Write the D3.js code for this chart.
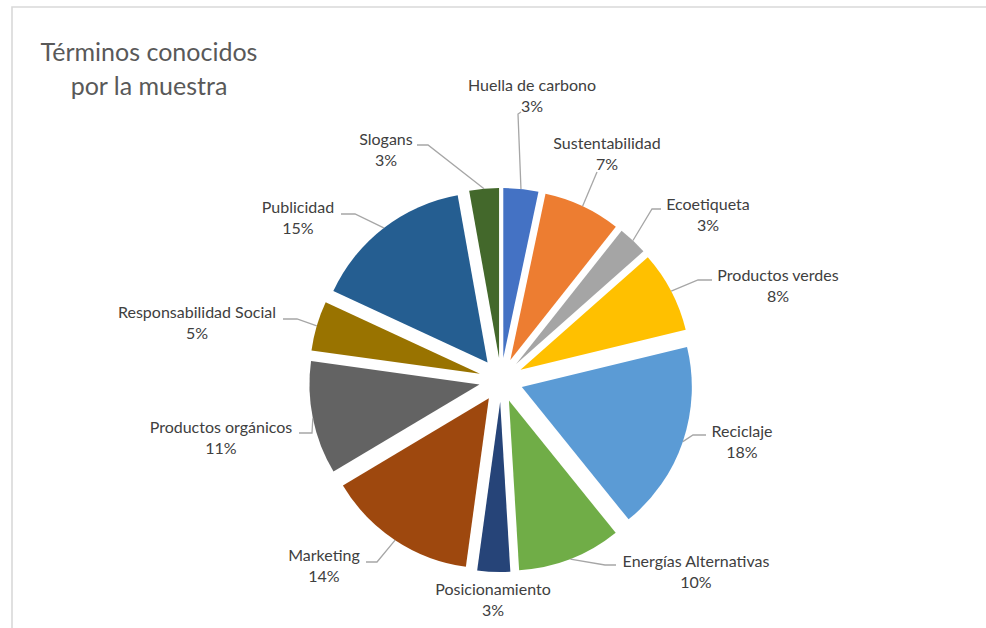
<!DOCTYPE html>
<html>
<head>
<meta charset="utf-8">
<script src="https://cdn.jsdelivr.net/npm/d3@7"></script>
<style>
  html, body { margin: 0; padding: 0; background: #fff; }
  svg { display: block; }
</style>
</head>
<body>
<svg id="chart" width="986" height="628"></svg>
<script>
// ---- data ----
const categories = ["Huella de carbono", "Sustentabilidad", "Ecoetiqueta", "Productos verdes",
  "Reciclaje", "Energías Alternativas", "Posicionamiento", "Marketing",
  "Productos orgánicos", "Responsabilidad Social", "Publicidad", "Slogans"];
const values = [3.3, 7.3, 2.8, 7.7, 17.9, 9.8, 3.1, 14.2, 10.7, 4.7, 15.2, 2.8];
const colors = ["#4472C4", "#ED7D31", "#A5A5A5", "#FFC000", "#5B9BD5", "#70AD47",
  "#264478", "#9E480E", "#636363", "#997300", "#255E91", "#43682B"];
const titleLines = ["Términos conocidos", "por la muestra"];

// ---- label layout (label centre x, first baseline y, leader elbow, leader end) ----
const labelLayout = [
  { x: 532, y: 91,  elbow: [518, 114], end: [521, 112] },
  { x: 607, y: 149, elbow: [597, 172], end: [597, 172] },
  { x: 708, y: 210, elbow: [652, 209], end: [661, 209] },
  { x: 778, y: 281, elbow: [698, 280], end: [712, 280] },
  { x: 742, y: 437, elbow: [693, 435], end: [706, 435] },
  { x: 696, y: 567, elbow: [605, 565], end: [616, 565] },
  { x: 493, y: 595, elbow: null, end: null },
  { x: 324, y: 561, elbow: [377, 562], end: [366, 562] },
  { x: 221, y: 433, elbow: [312, 433], end: [299, 433] },
  { x: 197, y: 318, elbow: [297, 319], end: [283, 319] },
  { x: 298, y: 213, elbow: [355, 214], end: [341, 214] },
  { x: 386, y: 145, elbow: [428, 145], end: [417, 145] }
];

const svg = d3.select("#chart");
const W = 986, H = 628;
const cx = 501, cy = 380, R = 170, explode = 22;

// frame
svg.append("path")
  .attr("d", `M12,${H} L12,7 L${W},7`)
  .attr("fill", "none")
  .attr("stroke", "#d9d9d9")
  .attr("stroke-width", 1.6);

// title
const title = svg.append("text")
  .attr("text-anchor", "middle")
  .attr("font-family", "Lato, 'Open Sans', sans-serif")
  .attr("font-size", 25)
  .attr("fill", "#595959");
titleLines.forEach((t, i) => {
  title.append("tspan").attr("x", 149).attr("y", 61 + i * 34).text(t);
});

const total = d3.sum(values);
const pie = d3.pie().sort(null).value(d => d).startAngle(0).endAngle(2 * Math.PI);
const arcs = pie(values);
const arc = d3.arc().innerRadius(0).outerRadius(R);

const g = svg.append("g").attr("transform", `translate(${cx},${cy})`);

g.selectAll("path.slice")
  .data(arcs)
  .join("path")
  .attr("class", "slice")
  .attr("d", arc)
  .attr("fill", (d, i) => colors[i])
  .attr("transform", d => {
    const m = (d.startAngle + d.endAngle) / 2;
    return `translate(${explode * Math.sin(m)},${-explode * Math.cos(m)})`;
  });

// leader lines
arcs.forEach((d, i) => {
  const L = labelLayout[i];
  if (!L.elbow) return;
  const m = (d.startAngle + d.endAngle) / 2;
  const sx = cx + (R + explode) * Math.sin(m);
  const sy = cy - (R + explode) * Math.cos(m);
  svg.append("path")
    .attr("d", d3.line()([[sx, sy], L.elbow, L.end]))
    .attr("fill", "none")
    .attr("stroke", "#a6a6a6")
    .attr("stroke-width", 1.3);
});

// labels
const fmt = v => Math.round(v / total * 100) + "%";
arcs.forEach((d, i) => {
  const L = labelLayout[i];
  const t = svg.append("text")
    .attr("text-anchor", "middle")
    .attr("font-family", "Lato, 'Open Sans', sans-serif")
    .attr("font-size", 16)
    .attr("fill", "#404040");
  t.append("tspan").attr("x", L.x).attr("y", L.y).text(categories[i]);
  t.append("tspan").attr("x", L.x).attr("y", L.y + 21).text(fmt(values[i]));
});
</script>
</body>
</html>
